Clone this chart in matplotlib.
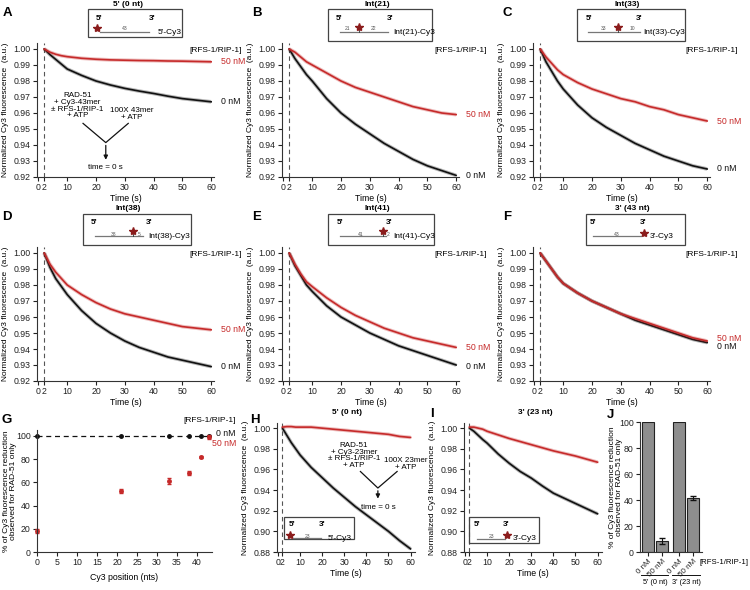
import numpy as np
import matplotlib
matplotlib.use("Agg")
import matplotlib.pyplot as plt
from matplotlib.patches import Rectangle

plt.rcParams['font.family'] = ['Liberation Sans', 'DejaVu Sans']
plt.rcParams['font.size'] = 6

RED = '#c62a2a'
BLACK = '#111111'
STAR = '#8b1c1c'

# time points (s)
time_s = [2, 4, 6, 8, 10, 15, 20, 25, 30, 35, 40, 45, 50, 55, 60]

# normalized Cy3 fluorescence, 0 nM vs 50 nM RFS-1/RIP-1
a_0nM = [1.000, 0.9965, 0.9935, 0.9905, 0.9875, 0.9835, 0.980, 0.9775, 0.9754, 0.9737, 0.9722, 0.9705, 0.969, 0.968, 0.967]
a_50nM = [1.000, 0.998, 0.9967, 0.9958, 0.9952, 0.9942, 0.9936, 0.9932, 0.993, 0.9928, 0.9927, 0.9925, 0.9924, 0.9922, 0.992]
b_0nM = [1.000, 0.994, 0.989, 0.984, 0.980, 0.969, 0.960, 0.953, 0.947, 0.941, 0.936, 0.931, 0.927, 0.924, 0.921]
b_50nM = [1.000, 0.998, 0.995, 0.992, 0.990, 0.985, 0.980, 0.976, 0.973, 0.970, 0.967, 0.964, 0.962, 0.960, 0.959]
c_0nM = [1.000, 0.992, 0.986, 0.980, 0.975, 0.965, 0.957, 0.951, 0.946, 0.941, 0.937, 0.933, 0.930, 0.927, 0.925]
c_50nM = [1.000, 0.995, 0.991, 0.987, 0.984, 0.979, 0.975, 0.972, 0.969, 0.967, 0.964, 0.962, 0.959, 0.957, 0.955]
d_0nM = [1.000, 0.991, 0.984, 0.979, 0.974, 0.964, 0.956, 0.950, 0.945, 0.941, 0.938, 0.935, 0.933, 0.931, 0.929]
d_50nM = [1.000, 0.993, 0.988, 0.984, 0.980, 0.974, 0.969, 0.965, 0.962, 0.960, 0.958, 0.956, 0.954, 0.953, 0.952]
e_0nM = [1.000, 0.992, 0.986, 0.980, 0.976, 0.967, 0.960, 0.955, 0.950, 0.946, 0.942, 0.939, 0.936, 0.933, 0.930]
e_50nM = [1.000, 0.993, 0.987, 0.982, 0.979, 0.972, 0.966, 0.961, 0.957, 0.953, 0.950, 0.947, 0.945, 0.943, 0.941]
f_0nM = [1.000, 0.995, 0.990, 0.985, 0.981, 0.975, 0.970, 0.966, 0.962, 0.958, 0.955, 0.952, 0.949, 0.946, 0.944]
f_50nM = [1.000, 0.995, 0.990, 0.985, 0.981, 0.975, 0.970, 0.966, 0.962, 0.959, 0.956, 0.953, 0.950, 0.947, 0.945]
h_0nM = [1.000, 0.993, 0.986, 0.980, 0.974, 0.962, 0.952, 0.942, 0.933, 0.924, 0.916, 0.908, 0.900, 0.891, 0.883]
h_50nM = [1.001, 1.0015, 1.0015, 1.001, 1.001, 1.001, 1.000, 0.999, 0.998, 0.997, 0.996, 0.995, 0.994, 0.992, 0.991]
i_0nM = [1.000, 0.997, 0.993, 0.989, 0.9855, 0.975, 0.966, 0.958, 0.9516, 0.944, 0.937, 0.932, 0.927, 0.922, 0.917]
i_50nM = [1.001, 1.001, 1.000, 0.999, 0.997, 0.9935, 0.990, 0.987, 0.984, 0.981, 0.978, 0.9755, 0.973, 0.970, 0.967]

# panel G
cy3_pos = [0, 21, 33, 38, 41, 43]
g_0nM = [100, 100, 100, 100, 100, 100]
g_50nM = [18, 52.5, 61, 68, 81.5, 99]
g_50nM_err = [2, 1.5, 2.5, 1.5, 1, 1.5]

# panel J
j_labels = ['0 nM', '50 nM', '0 nM', '50 nM']
j_values = [100, 8.5, 100, 41.5]
j_err = [0, 2.2, 0, 1.5]

W, H = 750, 590
fig = plt.figure(figsize=(7.5, 5.9), dpi=100)


def add_ax(x0, y0, x1, y1):
    return fig.add_axes([x0 / W, 1 - y1 / H, (x1 - x0) / W, (y1 - y0) / H])


def style(ax):
    for s in ['top', 'right']:
        ax.spines[s].set_visible(False)
    for s in ['left', 'bottom']:
        ax.spines[s].set_linewidth(0.8)
        ax.spines[s].set_color('#333333')
    ax.tick_params(length=3, width=0.8, pad=1.5, labelsize=6.3, colors='#222222')


YLAB = 'Normalized Cy3 fluorescence  (a.u.)'
PCT_LAB = '% of Cy3 fluorescence reduction\nobserved for RAD-51 only'


def kinetic(ax, black, red, ymin, ystep, lab_black=None, lab_red=None):
    style(ax)
    ax.axvline(2, color='#555555', lw=0.8, ls=(0, (4, 3)))
    for y, c in [(black, BLACK), (red, RED)]:
        ax.plot(time_s, y, color=c, lw=2.6, alpha=0.3, solid_capstyle='butt')
        ax.plot(time_s, y, color=c, lw=1.2)
    ax.set_xlim(-0.5, 61)
    ax.set_xticks([0, 2, 10, 20, 30, 40, 50, 60])
    yt = np.round(np.arange(ymin, 1.0001, ystep), 2)
    ax.set_yticks(yt)
    ax.set_yticklabels(['%.2f' % v for v in yt])
    ax.set_xlabel('Time (s)', fontsize=6.3, labelpad=1.5)
    ax.set_ylabel(YLAB, fontsize=6, labelpad=3)
    if lab_black is not None:
        ax.text(63.5, lab_red, '50 nM', color=RED, va='center', ha='left', fontsize=6.3)
        ax.text(63.5, lab_black, '0 nM', color=BLACK, va='center', ha='left', fontsize=6.3)


# rows of kinetic panels
rows = [(43, 177), (247, 381)]
cols = [(37, 214), (282, 459), (533, 710)]
panels = [
    (a_0nM, a_50nM, 0.967, 0.992),
    (b_0nM, b_50nM, 0.921, 0.959),
    (c_0nM, c_50nM, 0.925, 0.955),
    (d_0nM, d_50nM, 0.929, 0.952),
    (e_0nM, e_50nM, 0.929, 0.941),
    (f_0nM, f_50nM, 0.9415, 0.9465),
]
axes = []
for i, (bk, rd, lb, lr) in enumerate(panels):
    r, c = divmod(i, 3)
    ax = add_ax(cols[c][0], rows[r][0], cols[c][1], rows[r][1])
    kinetic(ax, bk, rd, 0.92, 0.01, lb, lr)
    ax.set_ylim(0.92, 1.00375)
    ax.text(1.158, 0.945, '[RFS-1/RIP-1]', transform=ax.transAxes, ha='right', va='center')
    axes.append(ax)

# annotation on panel A
axA = axes[0]
axA.text(13.6, 0.9645, 'RAD-51\n+ Cy3-43mer\n\u00b1 RFS-1/RIP-1\n+ ATP', ha='center', va='center',
         linespacing=0.95, fontsize=5.8)
axA.text(32.4, 0.9593, '100X 43mer\n+ ATP', ha='center', va='center', linespacing=0.95, fontsize=5.8)
axA.plot([15.5, 23.4, 31.2], [0.9535, 0.9415, 0.9535], color=BLACK, lw=0.9)
axA.annotate('', xy=(23.4, 0.929), xytext=(23.4, 0.9415),
             arrowprops=dict(arrowstyle='-|>', lw=0.9, color=BLACK, mutation_scale=6))
axA.text(23.4, 0.926, 'time = 0 s', ha='center', va='center', fontsize=5.8)

# panel G
axG = add_ax(37, 430, 212, 552)
style(axG)
axG.plot([0, 43], [100, 100], color=BLACK, lw=0.9, ls=(0, (4, 3)))
axG.plot(cy3_pos, g_0nM, 'o', color=BLACK, ms=2.5, clip_on=False)
axG.errorbar(cy3_pos, g_50nM, yerr=g_50nM_err, fmt='o', color=RED, ms=2.5, elinewidth=0.8,
             capsize=1.2, clip_on=False)
axG.set_xlim(0, 43.75)
axG.set_ylim(0, 105)
axG.set_xticks(range(0, 41, 5))
axG.set_yticks(range(0, 101, 20))
axG.set_xlabel('Cy3 position (nts)', fontsize=6.3, labelpad=4)
axG.set_ylabel(PCT_LAB, fontsize=6, labelpad=-1, linespacing=1.0)

# panels H and I
axH = add_ax(277, 423, 415, 552)
kinetic(axH, h_0nM, h_50nM, 0.88, 0.02)
axH.set_xlim(-0.45, 62)
axH.set_ylim(0.88, 1.005)
axH.text(34.3, 0.9734, 'RAD-51\n+ Cy3-23mer\n\u00b1 RFS-1/RIP-1\n+ ATP', ha='center', va='center',
         linespacing=0.95, fontsize=5.8)
axH.text(57.8, 0.965, '100X 23mer\n+ ATP', ha='center', va='center', linespacing=0.95, fontsize=5.8)
axH.plot([37.3, 45.2, 53.9], [0.958, 0.942, 0.958], color=BLACK, lw=0.9)
axH.annotate('', xy=(45.2, 0.929), xytext=(45.2, 0.942),
             arrowprops=dict(arrowstyle='-|>', lw=0.9, color=BLACK, mutation_scale=6))
axH.text(45.2, 0.9235, 'time = 0 s', ha='center', va='center', fontsize=5.8)

axI = add_ax(464, 423, 602, 552)
kinetic(axI, i_0nM, i_50nM, 0.88, 0.02)
axI.set_xlim(-0.45, 62)
axI.set_ylim(0.88, 1.005)

# panel J
axJ = add_ax(640, 422, 701.6, 552)
style(axJ)
j_x = [0, 1, 2.25, 3.25]
axJ.bar(j_x, j_values, width=0.88, color='#8e8e8e', edgecolor='#222222', lw=0.8)
axJ.errorbar(j_x[1::2], j_values[1::2], yerr=j_err[1::2], fmt='none', ecolor=BLACK,
             elinewidth=0.8, capsize=2)
axJ.set_xlim(-0.55, 3.85)
axJ.set_ylim(0, 100)
axJ.set_yticks(range(0, 101, 20))
axJ.set_xticks(j_x)
axJ.set_xticklabels(j_labels, rotation=45, ha='right', rotation_mode='anchor', fontsize=5.8)
axJ.set_ylabel(PCT_LAB, fontsize=6, labelpad=-3, linespacing=1.0)

# overlay in pixel coordinates for titles, letters and schematics
ov = fig.add_axes([0, 0, 1, 1])
ov.set_xlim(0, W)
ov.set_ylim(H, 0)
ov.axis('off')

for s, x, y in [('A', 7, 13), ('B', 257, 13), ('C', 507, 13), ('D', 7, 217), ('E', 257, 217),
                ('F', 507, 217), ('G', 7, 420), ('H', 255, 420), ('I', 432, 414), ('J', 610, 415)]:
    ov.text(x, y, s, fontsize=9.5, weight='bold', ha='center', va='center')

for s, x, y in [("5' (0 nt)", 128, 4), ('Int(21)', 377, 4), ('Int(33)', 627, 4),
                ('Int(38)', 128, 208), ('Int(41)', 377, 208), ("3' (43 nt)", 632, 208),
                ("5' (0 nt)", 347, 412), ("3' (23 nt)", 535, 412)]:
    ov.text(x, y, s, fontsize=6, weight='bold', ha='center', va='center')


def schematic(box, five, three, line, star, label, nums, tick=False):
    x0, y0, x1, y1 = box
    ov.add_patch(Rectangle((x0, y0), x1 - x0, y1 - y0, fill=False, ec='#444444', lw=0.9))
    ov.text(five[0], five[1], "5'", weight='bold', ha='center', va='center')
    ov.text(three[0], three[1], "3'", weight='bold', ha='center', va='center')
    ov.plot([line[0], line[2]], [line[1], line[1]], color='#777777', lw=0.9)
    for x, y, s in nums:
        ov.text(x, y, s, fontsize=3.6, color='#555555', ha='center', va='center')
    if tick:
        ov.plot([star[0], star[0]], [star[1], line[1]], color='#333333', lw=0.6)
    ov.plot(star[0], star[1], marker='*', ms=6, color=STAR, mec=STAR)
    ov.text(label[0], label[1], label[2], ha='left', va='center')


schematic((88, 9, 182, 37), (99, 19), (152, 19), (100, 32, 149), (97, 28), (158, 32, "5'-Cy3"),
          [(125, 29, '43')])
schematic((328, 9, 432, 41), (339, 18), (390, 18), (340, 32, 388), (359, 27), (393, 32, 'Int(21)-Cy3'),
          [(347, 29, '21'), (373, 29, '22')], tick=True)
schematic((577, 9, 685, 41), (589, 18), (639, 18), (588, 32, 640), (618, 27), (643, 32, 'Int(33)-Cy3'),
          [(604, 29, '33'), (632, 29, '10')], tick=True)
schematic((83, 214, 191, 245), (94, 223), (149, 223), (95, 236, 143), (133, 231), (148, 236, 'Int(38)-Cy3'),
          [(114, 234, '38'), (139, 234, '5')], tick=True)
schematic((328, 214, 434, 245), (340, 223), (389, 223), (340, 236, 386), (383, 231), (393, 236, 'Int(41)-Cy3'),
          [(361, 234, '41'), (388, 234, '2')], tick=True)
schematic((586, 214, 685, 245), (593, 223), (643, 223), (593, 236, 641), (644, 233), (650, 236, "3'-Cy3"),
          [(617, 234, '43')])
schematic((284, 517, 354, 539), (292, 525), (322, 525), (293, 538, 321), (290, 535), (328, 538, "5'-Cy3"),
          [(307, 536, '23')])
schematic((469, 517, 539, 543), (477, 524), (506, 524), (477, 539, 505), (507, 535), (513, 538, "3'-Cy3"),
          [(491, 537, '23')])

# panel G labels
ov.text(236, 420, '[RFS-1/RIP-1]', ha='right', va='center')
ov.text(236, 433, '0 nM', ha='right', va='center', color=BLACK, fontsize=6.3)
ov.text(236, 443, '50 nM', ha='right', va='center', color=RED, fontsize=6.3)

# panel J group labels
ov.plot([641, 668], [575, 575], color=BLACK, lw=0.7)
ov.plot([672, 700], [575, 575], color=BLACK, lw=0.7)
ov.text(655, 582, "5' (0 nt)", ha='center', va='center', fontsize=5.3)
ov.text(686, 582, "3' (23 nt)", ha='center', va='center', fontsize=5.3)
ov.text(749, 563, '[RFS-1/RIP-1]', ha='right', va='center', fontsize=5.6)

fig.savefig('out.png', dpi=100)
